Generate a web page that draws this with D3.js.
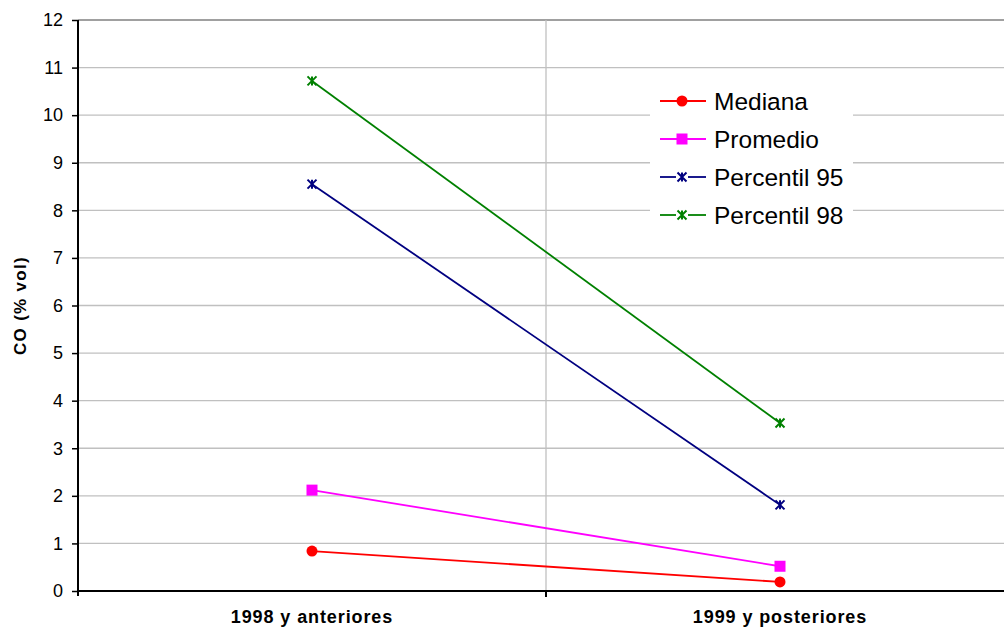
<!DOCTYPE html>
<html>
<head>
<meta charset="utf-8">
<script src="https://cdn.jsdelivr.net/npm/d3@7"></script>
<style>
  html, body { margin: 0; padding: 0; background: #fff; }
  svg { display: block; font-family: Arial, "Liberation Sans", sans-serif; }
</style>
</head>
<body>
<svg id="chart" width="1004" height="631"></svg>
<script>
// Categories and series values (CO, % vol)
const categories = ["1998 y anteriores", "1999 y posteriores"];
const mediana = [0.84, 0.19];
const promedio = [2.12, 0.52];
const percentil95 = [8.55, 1.81];
const percentil98 = [10.72, 3.53];
const yTicks = [0, 1, 2, 3, 4, 5, 6, 7, 8, 9, 10, 11, 12];
const seriesNames = ["Mediana", "Promedio", "Percentil 95", "Percentil 98"];

const series = [
  { name: seriesNames[0], values: mediana, color: "#ff0000", marker: "circle" },
  { name: seriesNames[1], values: promedio, color: "#ff00ff", marker: "square" },
  { name: seriesNames[2], values: percentil95, color: "#000080", marker: "star" },
  { name: seriesNames[3], values: percentil98, color: "#008000", marker: "star" }
];

const svg = d3.select("#chart");
const plotLeft = 78, plotRight = 1014, plotTop = 20, plotBottom = 591;

const x = d3.scaleBand().domain(categories).range([plotLeft, plotRight]).padding(0);
const y = d3.scaleLinear().domain([0, 12]).range([plotBottom, plotTop]);

// horizontal gridlines
svg.append("g").selectAll("line").data(yTicks.filter(d => d > 0)).join("line")
  .attr("x1", plotLeft).attr("x2", plotRight)
  .attr("y1", d => y(d)).attr("y2", d => y(d))
  .attr("stroke", d => d === 12 ? "#808080" : "#c0c0c0")
  .attr("stroke-width", d => d === 12 ? 1.5 : 1.3);

// vertical gridline between categories
svg.append("line")
  .attr("x1", x(categories[1])).attr("x2", x(categories[1]))
  .attr("y1", plotTop).attr("y2", plotBottom)
  .attr("stroke", "#c0c0c0").attr("stroke-width", 1.3);

// y axis
const yAxis = svg.append("g").attr("transform", `translate(${plotLeft},0)`)
  .call(d3.axisLeft(y).tickValues(yTicks).tickSize(6).tickPadding(9).tickFormat(d3.format("d")));
yAxis.select(".domain").attr("stroke", "#000").attr("stroke-width", 2).attr("d", `M0,${plotTop}V${plotBottom + 5}`);
yAxis.selectAll(".tick line").attr("stroke", "#000").attr("stroke-width", 1.5);
yAxis.selectAll(".tick text").attr("font-size", 18).attr("fill", "#000")
  .attr("font-family", "Arial, 'Liberation Sans', sans-serif");

// x axis
const xAxis = svg.append("g").attr("transform", `translate(0,${plotBottom})`)
  .call(d3.axisBottom(x).tickSize(0).tickPadding(19));
xAxis.select(".domain").attr("stroke", "#000").attr("stroke-width", 2).attr("d", `M${plotLeft},0H${plotRight}`);
xAxis.selectAll(".tick text").attr("font-size", 18).attr("font-weight", "bold").attr("fill", "#000")
  .attr("letter-spacing", 0.9)
  .attr("font-family", "Arial, 'Liberation Sans', sans-serif");
// category boundary tick marks
svg.append("g").selectAll("line").data([categories[1]]).join("line")
  .attr("x1", d => x(d)).attr("x2", d => x(d))
  .attr("y1", plotBottom).attr("y2", plotBottom + 6)
  .attr("stroke", "#000").attr("stroke-width", 2);

// y-axis title
svg.append("text")
  .attr("transform", `translate(26,${(plotTop + plotBottom) / 2}) rotate(-90)`)
  .attr("text-anchor", "middle")
  .attr("font-size", 17).attr("font-weight", "bold")
  .attr("letter-spacing", 1.3)
  .text("CO (% vol)");

const cx = d => x(d) + x.bandwidth() / 2;

function drawMarker(g, type, color) {
  if (type === "circle") {
    g.append("circle").attr("r", 5.5).attr("fill", color);
  } else if (type === "square") {
    g.append("rect").attr("x", -5.5).attr("y", -5.5).attr("width", 11).attr("height", 11).attr("fill", color);
  } else {
    const s = 4.5;
    g.append("path")
      .attr("d", `M${-s},${-s}L${s},${s}M${-s},${s}L${s},${-s}M0,${-s}V${s}`)
      .attr("stroke", color).attr("stroke-width", 2).attr("fill", "none");
  }
}

// lines and markers
const line = d3.line().x((d, i) => cx(categories[i])).y(d => y(d));
series.forEach(s => {
  svg.append("path").datum(s.values)
    .attr("d", line).attr("fill", "none")
    .attr("stroke", s.color).attr("stroke-width", 1.8);
  s.values.forEach((v, i) => {
    const g = svg.append("g").attr("transform", `translate(${cx(categories[i])},${y(v)})`);
    drawMarker(g, s.marker, s.color);
  });
});

// legend
const legend = svg.append("g").attr("transform", "translate(650,80)");
legend.append("rect").attr("width", 203).attr("height", 155).attr("fill", "#fff");
series.forEach((s, i) => {
  const gy = 21 + i * 38;
  const row = legend.append("g").attr("transform", `translate(0,${gy})`);
  if (s.marker === "star") {
    row.append("line").attr("x1", 10).attr("x2", 26).attr("stroke", s.color).attr("stroke-width", 1.8);
    row.append("line").attr("x1", 38).attr("x2", 56).attr("stroke", s.color).attr("stroke-width", 1.8);
  } else {
    row.append("line").attr("x1", 10).attr("x2", 56).attr("stroke", s.color).attr("stroke-width", 1.8);
  }
  const m = row.append("g").attr("transform", "translate(32,0)");
  drawMarker(m, s.marker, s.color);
  row.append("text").attr("x", 64).attr("dy", "0.35em")
    .attr("font-size", 24.5).attr("fill", "#000").text(s.name);
});
</script>
</body>
</html>
